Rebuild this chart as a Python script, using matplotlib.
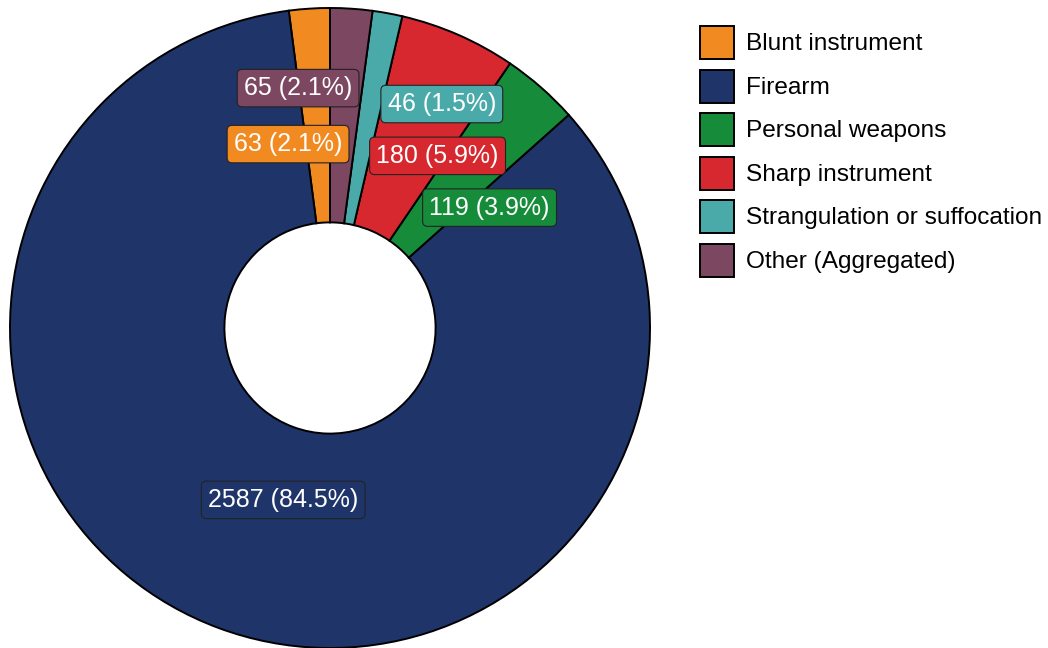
import numpy as np
import matplotlib.pyplot as plt

plt.rcParams['font.family'] = ['Liberation Sans', 'DejaVu Sans']

categories = ["Blunt instrument", "Firearm", "Personal weapons",
              "Sharp instrument", "Strangulation or suffocation", "Other (Aggregated)"]
counts = [63, 2587, 119, 180, 46, 65]
colors = ["#F28A22", "#1F3569", "#168C3A", "#D8282F", "#4AAAA9", "#7C4760"]

# label nudges (data units) to keep the small labels apart
nudges = [(-0.091, -0.044), (0.07, 0.044), (0.09, -0.09),
          (0.0875, -0.03), (0.238, 0.09), (-0.141, 0.131)]

fig = plt.figure(figsize=(10.48, 6.48), dpi=100)
ax = fig.add_axes([10 / 1048, 0, 640 / 1048, 640 / 648])

wedges, _ = ax.pie(counts, colors=colors, startangle=90, counterclock=True,
                   radius=1.0,
                   wedgeprops=dict(width=0.67, edgecolor="black", linewidth=1.4))
ax.set_xlim(-1, 1)
ax.set_ylim(-1, 1)
ax.set_aspect("equal")
ax.axis("off")

total = sum(counts)
for w, c, col, (dx, dy) in zip(wedges, counts, colors, nudges):
    ang = np.deg2rad((w.theta1 + w.theta2) / 2)
    x = 0.62 * np.cos(ang) + dx
    y = 0.62 * np.sin(ang) + dy
    ax.text(x, y, f"{c} ({c / total * 100:.1f}%)", ha="center", va="center",
            fontsize=18, color="white",
            bbox=dict(boxstyle="round,pad=0.27,rounding_size=0.2", fc=col,
                      ec="#222222", lw=0.8))

leg = fig.legend(wedges, categories, loc="upper left",
                 bbox_to_anchor=(700 / 1048, 1 - 26 / 648), frameon=False,
                 fontsize=17.6, handlelength=1.4, handleheight=1.7,
                 labelspacing=0.43, handletextpad=0.47, borderpad=0, borderaxespad=0)

plt.savefig("out.png", dpi=100)
